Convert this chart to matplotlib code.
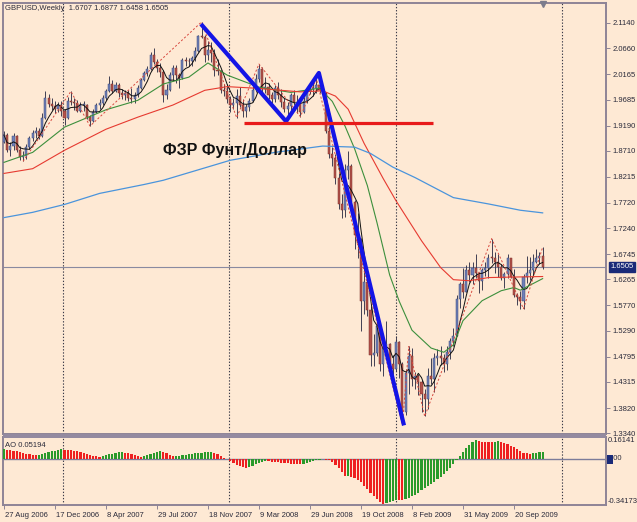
import matplotlib
matplotlib.use('Agg')
import matplotlib.pyplot as plt
import matplotlib.transforms as mtransforms
from matplotlib.patches import Rectangle
import pandas as pd

# ---------------- data ----------------
first_open = 1.8880
closes = [1.9010, 1.8720, 1.8800, 1.8990, 1.8730, 1.8600, 1.8620, 1.8780, 1.8960, 1.9050,
          1.9080, 1.9000, 1.9330, 1.9720, 1.9600, 1.9560, 1.9500, 1.9580, 1.9460, 1.9330,
          1.9650, 1.9640, 1.9610, 1.9470, 1.9580, 1.9580, 1.9360, 1.9270, 1.9450, 1.9580,
          1.9620, 1.9720, 1.9840, 1.9980, 1.9850, 1.9960, 1.9800, 1.9780, 1.9800, 1.9720,
          1.9690, 1.9770, 1.9900, 2.0060, 2.0180, 2.0260, 2.0530, 2.0400, 2.0280, 2.0200,
          1.9780, 1.9860, 2.0150, 2.0280, 2.0150, 2.0100, 2.0430, 2.0420, 2.0410, 2.0480,
          2.0610, 2.0900, 2.0880, 2.0540, 2.0620, 2.0560, 2.0250, 2.0220, 1.9870, 1.9850,
          1.9700, 1.9580, 1.9620, 1.9760, 1.9580, 1.9460, 1.9550, 1.9660, 1.9860, 2.0080,
          2.0270, 1.9880, 1.9920, 1.9770, 1.9700, 1.9900, 1.9780, 1.9640, 1.9500, 1.9560,
          1.9770, 1.9640, 1.9630, 1.9450, 1.9660, 1.9850, 1.9880, 1.9910, 1.9960, 1.9860,
          1.9790, 1.9090, 1.8650, 1.8580, 1.8200, 1.7700, 1.7580, 1.8340, 1.8420, 1.7730,
          1.7100, 1.6950, 1.5850, 1.6220, 1.5680, 1.4820, 1.4860, 1.5380, 1.4660, 1.4980,
          1.5030, 1.4650, 1.4560, 1.5080, 1.4650, 1.3750, 1.4490, 1.4800, 1.4380, 1.4420,
          1.4310, 1.4080, 1.3990, 1.4420, 1.4380, 1.4770, 1.4810, 1.4780, 1.4660, 1.4890,
          1.5090, 1.5190, 1.5900, 1.6180, 1.6020, 1.6440, 1.6350, 1.6480, 1.6380, 1.6240,
          1.6450, 1.6480, 1.6680, 1.6670, 1.6590, 1.6500, 1.6300, 1.6360, 1.6680, 1.6310,
          1.5960, 1.5930, 1.5860, 1.6320, 1.6380, 1.6450, 1.6590, 1.6680, 1.6707, 1.6505]
highs = [1.9080, 1.9040, 1.8880, 1.9040, 1.9010, 1.8800, 1.8700, 1.8830, 1.8990, 1.9110,
         1.9160, 1.9150, 1.9420, 1.9850, 1.9790, 1.9720, 1.9650, 1.9630, 1.9650, 1.9500,
         1.9740, 1.9840, 1.9710, 1.9680, 1.9640, 1.9660, 1.9600, 1.9400, 1.9500, 1.9620,
         1.9700, 1.9780, 1.9880, 2.0130, 2.0050, 2.0020, 1.9990, 1.9880, 1.9870, 1.9860,
         1.9900, 1.9820, 1.9960, 2.0100, 2.0230, 2.0320, 2.0580, 2.0660, 2.0450, 2.0380,
         2.0250, 1.9980, 2.0200, 2.0340, 2.0340, 2.0190, 2.0480, 2.0490, 2.0480, 2.0520,
         2.0680, 2.0920, 2.1160, 2.0920, 2.0790, 2.0770, 2.0640, 2.0450, 2.0250, 1.9980,
         1.9980, 1.9760, 1.9720, 1.9880, 1.9930, 1.9700, 1.9600, 1.9720, 1.9960, 2.0170,
         2.0360, 2.0300, 2.0110, 1.9990, 1.9820, 1.9960, 2.0020, 1.9880, 1.9720, 1.9630,
         1.9800, 1.9860, 1.9770, 1.9700, 1.9730, 1.9920, 1.9990, 2.0010, 2.0080, 2.0030,
         1.9970, 1.9820, 1.9180, 1.8780, 1.8640, 1.8280, 1.7890, 1.8450, 1.8700, 1.8460,
         1.7770, 1.7520, 1.7050, 1.6580, 1.6320, 1.5750, 1.5220, 1.5580, 1.5380, 1.5050,
         1.5480, 1.5050, 1.4820, 1.5190, 1.5100, 1.4700, 1.4570, 1.4990, 1.4970, 1.4500,
         1.4470, 1.4350, 1.4180, 1.4590, 1.4780, 1.4860, 1.4950, 1.5000, 1.4840, 1.4990,
         1.5150, 1.5340, 1.5960, 1.6210, 1.6480, 1.6540, 1.6600, 1.6590, 1.6740, 1.6400,
         1.6480, 1.6590, 1.6740, 1.7040, 1.6780, 1.6740, 1.6560, 1.6410, 1.6740, 1.6650,
         1.6460, 1.6010, 1.6040, 1.6360, 1.6710, 1.6700, 1.6740, 1.6840, 1.6790, 1.6877]
lows = [1.8850, 1.8690, 1.8610, 1.8720, 1.8680, 1.8530, 1.8510, 1.8560, 1.8740, 1.8900,
        1.8960, 1.8930, 1.8980, 1.9310, 1.9540, 1.9480, 1.9430, 1.9450, 1.9380, 1.9200,
        1.9320, 1.9580, 1.9490, 1.9450, 1.9440, 1.9470, 1.9320, 1.9180, 1.9250, 1.9420,
        1.9500, 1.9580, 1.9680, 1.9830, 1.9800, 1.9830, 1.9740, 1.9700, 1.9680, 1.9660,
        1.9620, 1.9620, 1.9730, 1.9880, 2.0030, 2.0140, 2.0240, 2.0360, 2.0200, 2.0120,
        1.9640, 1.9700, 1.9840, 2.0040, 2.0000, 1.9910, 2.0080, 2.0320, 2.0320, 2.0330,
        2.0420, 2.0590, 2.0850, 2.0400, 2.0440, 2.0400, 2.0130, 2.0150, 1.9810, 1.9760,
        1.9620, 1.9450, 1.9500, 1.9340, 1.9540, 1.9360, 1.9360, 1.9460, 1.9630, 1.9830,
        2.0020, 1.9750, 1.9810, 1.9700, 1.9620, 1.9630, 1.9700, 1.9550, 1.9450, 1.9390,
        1.9480, 1.9590, 1.9430, 1.9360, 1.9430, 1.9610, 1.9790, 1.9750, 1.9800, 1.9800,
        1.9700, 1.9050, 1.8570, 1.8430, 1.8080, 1.7600, 1.7440, 1.7450, 1.8180, 1.7650,
        1.6850, 1.6680, 1.5290, 1.5600, 1.5560, 1.4620, 1.4620, 1.4800, 1.4520, 1.4420,
        1.4920, 1.4580, 1.4350, 1.4520, 1.4400, 1.3500, 1.3690, 1.4090, 1.4230, 1.4190,
        1.4060, 1.3740, 1.3660, 1.3810, 1.4280, 1.4130, 1.4630, 1.4640, 1.4510, 1.4550,
        1.4750, 1.4990, 1.5180, 1.5720, 1.5920, 1.6020, 1.6220, 1.6180, 1.6290, 1.6000,
        1.6070, 1.6330, 1.6300, 1.6580, 1.6390, 1.6320, 1.6250, 1.6100, 1.6300, 1.6300,
        1.5930, 1.5780, 1.5710, 1.5707, 1.6200, 1.6250, 1.6350, 1.6580, 1.6560, 1.6458]

ao_values = [0.074, 0.068, 0.064, 0.060, 0.055, 0.050, 0.044, 0.038, 0.032, 0.028, 0.025,
             0.027, 0.033, 0.040, 0.048, 0.055, 0.061, 0.066, 0.072,
             0.068, 0.067, 0.065, 0.061, 0.056, 0.050, 0.043, 0.036, 0.030, 0.024, 0.019, 0.016,
             0.020, 0.026, 0.033, 0.039, 0.044, 0.047, 0.048,
             0.046, 0.040, 0.033, 0.026, 0.020, 0.016,
             0.022, 0.030, 0.038, 0.046, 0.052, 0.055,
             0.050, 0.040, 0.028, 0.018,
             0.020, 0.024, 0.028, 0.031, 0.034, 0.037, 0.040, 0.043, 0.046, 0.049, 0.051, 0.053,
             0.045, 0.033, 0.020, 0.008, -0.004, -0.018, -0.032, -0.045, -0.055, -0.062, -0.066,
             -0.060, -0.050, -0.040, -0.030, -0.022, -0.016,
             -0.018, -0.021, -0.024, -0.027, -0.030, -0.032, -0.034, -0.036, -0.038, -0.040, -0.041,
             -0.036, -0.030, -0.024, -0.018, -0.012, -0.006, -0.004,
             -0.006, -0.012, -0.027, -0.045, -0.070, -0.095, -0.128,
             -0.125,
             -0.135, -0.142, -0.155, -0.175, -0.200, -0.225, -0.250, -0.275, -0.300, -0.320, -0.335,
             -0.325, -0.318, -0.310, -0.303,
             -0.305, -0.308,
             -0.300, -0.290, -0.278, -0.265, -0.250, -0.233, -0.216, -0.200, -0.184, -0.168,
             -0.152, -0.133, -0.112, -0.090, -0.065, -0.040, -0.012,
             0.020, 0.050, 0.080, 0.105, 0.125, 0.138,
             0.132, 0.128, 0.126, 0.125, 0.124,
             0.127, 0.129,
             0.125, 0.118, 0.108, 0.096, 0.084, 0.070, 0.056, 0.045, 0.040, 0.038,
             0.041, 0.045, 0.049, 0.05194]

date_label_bars = [0, 16, 32, 48, 64, 80, 96, 112, 128, 144, 160]
date_labels = ['27 Aug 2006', '17 Dec 2006', '8 Apr 2007', '29 Jul 2007', '18 Nov 2007',
               '9 Mar 2008', '29 Jun 2008', '19 Oct 2008', '8 Feb 2009', '31 May 2009',
               '20 Sep 2009']
price_ticks = [2.1140, 2.0660, 2.0165, 1.9685, 1.9190, 1.8710, 1.8215, 1.7720, 1.7240,
               1.6745, 1.6265, 1.5770, 1.5290, 1.4795, 1.4315, 1.3820, 1.3340]
current_price = 1.6505
ao_max, ao_zero, ao_min = 0.16141, 0.0, -0.34173
ao_tick_labels = ['0.16141', '0.00', '-0.34173']
title_text = 'GBPUSD,Weekly  1.6707 1.6877 1.6458 1.6505'
ao_title = 'AO 0.05194'
annotation = 'ФЗР Фунт/Доллар'

red_ma_bars = [0, 9, 19, 32, 42, 53, 63, 70, 79, 93, 100, 104, 108, 113, 119, 123, 131, 137, 141, 146, 152, 160, 169]
red_ma_vals = [1.828, 1.837, 1.872, 1.912, 1.935, 1.958, 1.986, 1.993, 1.990, 1.983, 1.985, 1.975,
               1.950, 1.885, 1.818, 1.776, 1.700, 1.649, 1.626, 1.624, 1.630, 1.631, 1.632]
green_ma_bars = [0, 9, 19, 32, 42, 50, 58, 64, 70, 80, 90, 99, 103, 107, 110, 114, 117, 121, 124,
                 128, 134, 138, 141, 144, 150, 156, 160, 162, 169]
green_ma_vals = [1.849, 1.868, 1.916, 1.949, 1.967, 1.998, 2.011, 2.038, 2.015, 1.992, 1.982, 1.990,
                 1.965, 1.918, 1.875, 1.805, 1.735, 1.635, 1.585, 1.530, 1.496, 1.488, 1.502, 1.548,
                 1.586, 1.605, 1.611, 1.606, 1.628]
blue_ma_bars = [0, 9, 19, 30, 44, 50, 71, 85, 100, 110, 115, 122, 129, 141, 152, 162, 169]
blue_ma_vals = [1.744, 1.754, 1.769, 1.790, 1.807, 1.815, 1.853, 1.868, 1.880, 1.878, 1.866,
                1.840, 1.820, 1.782, 1.770, 1.758, 1.753]

zigzag_bars = [6, 21, 27, 62, 73, 80, 93, 98, 125, 127, 132, 153, 163, 169]
zigzag_vals = [1.851, 1.984, 1.918, 2.116, 1.934, 2.036, 1.936, 2.008, 1.350, 1.499, 1.366,
               1.704, 1.5707, 1.6877]

trend_bars = [61.8, 88.5, 98.8, 125.5]
trend_vals = [2.112, 1.927, 2.019, 1.349]
level_bars = [75.3, 134.6]
level_val = 1.923
grid_bars = [18.5, 70.6, 123.0, 175.0]
shift_marker_bar = 169.2

# ---------------- style ----------------
BG = '#FEE9D4'
AXC = '#8E8496'
TXT = '#2A2A3A'
NAVY = '#1A2A78'
FONT = 'Liberation Sans'
FS = 5.5
BULL = '#6F80B8'
BEAR = '#B4524A'

W, H = 637, 522
fig = plt.figure(figsize=(W / 100, H / 100), dpi=100)
fig.patch.set_facecolor(BG)

left_px, right_px = 3, 606
ax = fig.add_axes([left_px / W, 1 - 434 / H, (right_px - left_px) / W, 431 / H])
ax_ao = fig.add_axes([left_px / W, 1 - 505 / H, (right_px - left_px) / W, 68 / H], sharex=ax)
for a in (ax, ax_ao):
    a.set_facecolor(BG)
    for s in a.spines.values():
        s.set_color(AXC)
        s.set_linewidth(1.4)
# separator band between the two panels
fig.patches.append(Rectangle((left_px / W, 1 - 437.5 / H), (right_px - left_px) / W, 4 / H,
                             transform=fig.transFigure, facecolor='#948AA0', edgecolor='none',
                             zorder=10))

px_per_bar = 3.1875
x_left = -0.3
x_right = x_left + (right_px - left_px) / px_per_bar
ax.set_xlim(x_left, x_right)
ax.set_ylim(1.3326, 2.1520)
ax_ao.set_ylim(ao_min, ao_max)

n = len(closes)
bars = list(range(n))
opens = [first_open] + closes[:-1]

# vertical dotted grid
for a in (ax, ax_ao):
    for gb in grid_bars:
        a.axvline(gb, color='#3A3A48', lw=0.8, ls=(0, (1.2, 1.6)), zorder=1)

# current price line
ax.axhline(current_price, color='#8A8AA0', lw=0.8, zorder=1)

# candles
body_bottom = [min(o, c) for o, c in zip(opens, closes)]
body_height = [max(abs(c - o), 0.0012) for o, c in zip(opens, closes)]
colors = [BULL if c >= o else BEAR for o, c in zip(opens, closes)]
edges = ['#3C4A7A' if c >= o else '#7A2E2A' for o, c in zip(opens, closes)]
ax.vlines(bars, lows, highs, color='#34344A', lw=0.65, zorder=2)
ax.bar(bars, body_height, bottom=body_bottom, width=0.64, color=colors,
       edgecolor=edges, linewidth=0.35, zorder=3)

# moving averages
black_ma = pd.Series(closes).rolling(5, min_periods=1).mean()
ax.plot(bars, black_ma, color='#101010', lw=0.7, zorder=4)
ax.plot(green_ma_bars, green_ma_vals, color='#3C8F3C', lw=0.8, zorder=4)
ax.plot(red_ma_bars, red_ma_vals, color='#E63A30', lw=0.8, zorder=4)
ax.plot(blue_ma_bars, blue_ma_vals, color='#4A94DC', lw=0.9, zorder=4)

# zigzag
ax.plot(zigzag_bars, zigzag_vals, color='#D84A40', lw=0.7, ls=(0, (2.2, 2.0)), zorder=4)

# hand drawn objects
ax.plot(trend_bars, trend_vals, color='#1414E6', lw=3.0, solid_capstyle='butt', zorder=6)
ax.plot(level_bars, [level_val, level_val], color='#E81A1A', lw=2.3, solid_capstyle='butt', zorder=6)
ax.text(49.9, 1.8725, annotation, fontsize=11.5, fontweight='bold', family=FONT,
        color='#111111', va='center', ha='left', zorder=7)

# price axis
ax.yaxis.tick_right()
ax.set_yticks(price_ticks)
ax.set_yticklabels(['%.4f' % p for p in price_ticks])
ax.tick_params(axis='y', direction='out', length=3, width=0.7, color=AXC, pad=1.5,
               labelsize=FS, labelcolor=TXT)
for lbl in ax.get_yticklabels():
    lbl.set_family(FONT)
trans_r = mtransforms.blended_transform_factory(ax.transAxes, ax.transData)
ax.text(1.0 + 4.5 / (right_px - left_px), current_price, '%.4f' % current_price,
        transform=trans_r, fontsize=FS, family=FONT, color='white', va='center', ha='left',
        bbox=dict(boxstyle='square,pad=0.18', fc=NAVY, ec=NAVY), zorder=8, clip_on=False)

ax.tick_params(axis='x', which='both', bottom=False, labelbottom=False)
ax.text(0.004, 0.995, title_text, transform=ax.transAxes, fontsize=FS, family=FONT,
        color=TXT, va='top', ha='left')
ax.plot([shift_marker_bar], [2.1505], marker='v', ms=4.5, color='#7C7C8C', zorder=8,
        clip_on=False)

# AO panel
ao_colors = ['#2A9A2A']
for i in range(1, len(ao_values)):
    ao_colors.append('#2A9A2A' if ao_values[i] > ao_values[i - 1] else '#EE2020')
ax_ao.bar(bars, ao_values, width=0.68, color=ao_colors, zorder=3)
ax_ao.axhline(0, color='#7C7C9A', lw=1.0, zorder=2)
ax_ao.set_yticks([])
trans_ao = mtransforms.blended_transform_factory(ax_ao.transAxes, ax_ao.transData)
lx = 1.0 + 1.5 / (right_px - left_px)
ax_ao.text(lx, ao_max, ao_tick_labels[0], transform=trans_ao, fontsize=FS, family=FONT,
           color=TXT, va='top', ha='left', clip_on=False)
ax_ao.text(lx, ao_zero, ao_tick_labels[1], transform=trans_ao, fontsize=FS, family=FONT,
           color=TXT, va='center', ha='left', clip_on=False)
# navy marker box over the first digit of the zero label
fig.patches.append(Rectangle((607.0 / W, 1 - 463.5 / H), 5.5 / W, 8.5 / H,
                             transform=fig.transFigure, facecolor=NAVY, edgecolor='none',
                             zorder=12))
ax_ao.text(lx, ao_min, ao_tick_labels[2], transform=trans_ao, fontsize=FS, family=FONT,
           color=TXT, va='bottom', ha='left', clip_on=False)
ax_ao.text(0.004, 0.93, ao_title, transform=ax_ao.transAxes, fontsize=FS, family=FONT,
           color=TXT, va='top', ha='left')

ax_ao.set_xticks(date_label_bars)
ax_ao.set_xticklabels(date_labels)
ax_ao.tick_params(axis='x', direction='out', length=3, width=0.7, color=AXC, pad=2,
                  labelsize=FS, labelcolor=TXT)
offset = mtransforms.ScaledTranslation(1.5 / 100, 0, fig.dpi_scale_trans)
for lbl in ax_ao.get_xticklabels():
    lbl.set_family(FONT)
    lbl.set_ha('left')
    lbl.set_transform(lbl.get_transform() + offset)

fig.savefig('out.png', dpi=100, facecolor=BG)
